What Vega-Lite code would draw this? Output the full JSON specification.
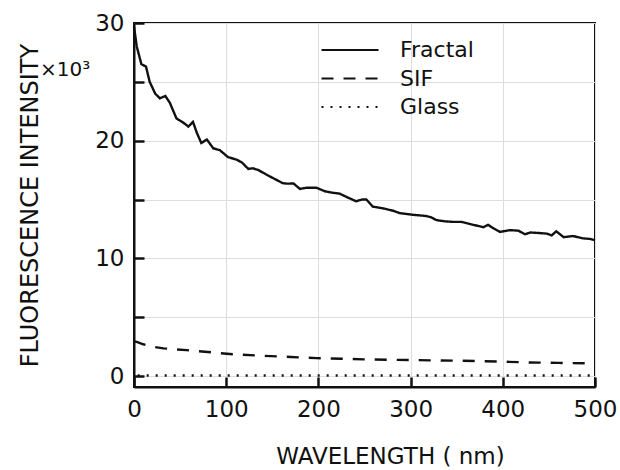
{
  "$schema": "https://vega.github.io/schema/vega-lite/v6.json",
  "width": 461,
  "height": 364,
  "autosize": {"type": "none"},
  "padding": {"left": 134, "top": 23, "right": 25, "bottom": 83},
  "background": "white",
  "title": {"text": "×10³", "anchor": "start", "frame": "group", "orient": "top", "offset": 0, "dx": -94, "dy": 84, "baseline": "alphabetic", "fontSize": 20, "fontWeight": "normal", "font": "DejaVu Sans", "color": "#111"},
  "config": {
    "font": "DejaVu Sans",
    "view": {"stroke": "#111", "strokeWidth": 2}
  },
  "data": {"values": [
      {"wl": 0, "v": 29.7, "s": "Fractal"},
      {"wl": 3, "v": 28.0, "s": "Fractal"},
      {"wl": 8, "v": 26.5, "s": "Fractal"},
      {"wl": 13, "v": 26.3, "s": "Fractal"},
      {"wl": 17, "v": 25.0, "s": "Fractal"},
      {"wl": 23, "v": 24.0, "s": "Fractal"},
      {"wl": 28, "v": 23.6, "s": "Fractal"},
      {"wl": 34, "v": 23.8, "s": "Fractal"},
      {"wl": 39, "v": 23.2, "s": "Fractal"},
      {"wl": 46, "v": 21.9, "s": "Fractal"},
      {"wl": 54, "v": 21.5, "s": "Fractal"},
      {"wl": 59, "v": 21.2, "s": "Fractal"},
      {"wl": 64, "v": 21.6, "s": "Fractal"},
      {"wl": 68, "v": 20.7, "s": "Fractal"},
      {"wl": 73, "v": 19.8, "s": "Fractal"},
      {"wl": 79, "v": 20.1, "s": "Fractal"},
      {"wl": 86, "v": 19.35, "s": "Fractal"},
      {"wl": 93, "v": 19.2, "s": "Fractal"},
      {"wl": 102, "v": 18.6, "s": "Fractal"},
      {"wl": 111, "v": 18.4, "s": "Fractal"},
      {"wl": 117, "v": 18.15, "s": "Fractal"},
      {"wl": 124, "v": 17.6, "s": "Fractal"},
      {"wl": 129, "v": 17.65, "s": "Fractal"},
      {"wl": 135, "v": 17.5, "s": "Fractal"},
      {"wl": 144, "v": 17.1, "s": "Fractal"},
      {"wl": 155, "v": 16.65, "s": "Fractal"},
      {"wl": 161, "v": 16.4, "s": "Fractal"},
      {"wl": 166, "v": 16.35, "s": "Fractal"},
      {"wl": 173, "v": 16.36, "s": "Fractal"},
      {"wl": 180, "v": 15.9, "s": "Fractal"},
      {"wl": 187, "v": 16.0, "s": "Fractal"},
      {"wl": 198, "v": 16.0, "s": "Fractal"},
      {"wl": 207, "v": 15.7, "s": "Fractal"},
      {"wl": 216, "v": 15.57, "s": "Fractal"},
      {"wl": 223, "v": 15.5, "s": "Fractal"},
      {"wl": 231, "v": 15.2, "s": "Fractal"},
      {"wl": 241, "v": 14.85, "s": "Fractal"},
      {"wl": 247, "v": 15.0, "s": "Fractal"},
      {"wl": 252, "v": 15.0, "s": "Fractal"},
      {"wl": 259, "v": 14.4, "s": "Fractal"},
      {"wl": 270, "v": 14.25, "s": "Fractal"},
      {"wl": 281, "v": 14.05, "s": "Fractal"},
      {"wl": 288, "v": 13.85, "s": "Fractal"},
      {"wl": 303, "v": 13.7, "s": "Fractal"},
      {"wl": 317, "v": 13.6, "s": "Fractal"},
      {"wl": 322, "v": 13.5, "s": "Fractal"},
      {"wl": 328, "v": 13.25, "s": "Fractal"},
      {"wl": 337, "v": 13.15, "s": "Fractal"},
      {"wl": 346, "v": 13.1, "s": "Fractal"},
      {"wl": 355, "v": 13.1, "s": "Fractal"},
      {"wl": 368, "v": 12.85, "s": "Fractal"},
      {"wl": 379, "v": 12.65, "s": "Fractal"},
      {"wl": 384, "v": 12.85, "s": "Fractal"},
      {"wl": 390, "v": 12.55, "s": "Fractal"},
      {"wl": 397, "v": 12.25, "s": "Fractal"},
      {"wl": 408, "v": 12.4, "s": "Fractal"},
      {"wl": 417, "v": 12.35, "s": "Fractal"},
      {"wl": 424, "v": 12.05, "s": "Fractal"},
      {"wl": 430, "v": 12.2, "s": "Fractal"},
      {"wl": 440, "v": 12.15, "s": "Fractal"},
      {"wl": 448, "v": 12.1, "s": "Fractal"},
      {"wl": 453, "v": 11.95, "s": "Fractal"},
      {"wl": 458, "v": 12.3, "s": "Fractal"},
      {"wl": 466, "v": 11.8, "s": "Fractal"},
      {"wl": 476, "v": 11.9, "s": "Fractal"},
      {"wl": 487, "v": 11.7, "s": "Fractal"},
      {"wl": 495, "v": 11.65, "s": "Fractal"},
      {"wl": 500, "v": 11.55, "s": "Fractal"},
      {"wl": 0, "v": 2.95, "s": "SIF"},
      {"wl": 3, "v": 2.9, "s": "SIF"},
      {"wl": 10, "v": 2.7, "s": "SIF"},
      {"wl": 20, "v": 2.5, "s": "SIF"},
      {"wl": 32, "v": 2.35, "s": "SIF"},
      {"wl": 57, "v": 2.2, "s": "SIF"},
      {"wl": 86, "v": 2.0, "s": "SIF"},
      {"wl": 107, "v": 1.85, "s": "SIF"},
      {"wl": 140, "v": 1.72, "s": "SIF"},
      {"wl": 170, "v": 1.62, "s": "SIF"},
      {"wl": 198, "v": 1.52, "s": "SIF"},
      {"wl": 225, "v": 1.47, "s": "SIF"},
      {"wl": 249, "v": 1.42, "s": "SIF"},
      {"wl": 300, "v": 1.36, "s": "SIF"},
      {"wl": 354, "v": 1.3, "s": "SIF"},
      {"wl": 400, "v": 1.22, "s": "SIF"},
      {"wl": 426, "v": 1.16, "s": "SIF"},
      {"wl": 460, "v": 1.12, "s": "SIF"},
      {"wl": 491, "v": 1.08, "s": "SIF"},
      {"wl": 500, "v": 1.2, "s": "SIF"},
      {"wl": 4, "v": 0.05, "s": "Glass"},
      {"wl": 100, "v": 0.05, "s": "Glass"},
      {"wl": 200, "v": 0.05, "s": "Glass"},
      {"wl": 300, "v": 0.05, "s": "Glass"},
      {"wl": 400, "v": 0.05, "s": "Glass"},
      {"wl": 500, "v": 0.05, "s": "Glass"}
  ]},
  "mark": {"type": "line", "color": "#111", "strokeWidth": 2.4},
  "encoding": {
    "x": {
      "field": "wl", "type": "quantitative",
      "scale": {"domain": [0, 500], "nice": false, "zero": false},
      "axis": {
        "tickCount": 5,
        "domainColor": "#111",
        "domainWidth": 2,
        "tickColor": "#111",
        "tickWidth": 2.5,
        "tickSize": -10,
        "labelPadding": 21,
        "labelFontSize": 23,
        "labelColor": "#111",
        "labelFont": "DejaVu Sans",
        "labelFlush": false,
        "title": "WAVELENGTH ( nm)",
        "titleFont": "DejaVu Sans",
        "titleFontWeight": "normal",
        "titleColor": "#111",
        "titleFontSize": 23,
        "titleX": 256,
        "titleY": 76,
        "titleBaseline": "alphabetic"
      }
    },
    "y": {
      "field": "v", "type": "quantitative",
      "scale": {"domain": [-0.93, 30], "nice": false, "zero": false},
      "axis": {
        "tickCount": 7,
        "labelExpr": "datum.value % 10 === 0 ? datum.label : ''",
        "domainColor": "#111",
        "domainWidth": 2,
        "tickColor": "#111",
        "tickWidth": 2.5,
        "tickSize": -10,
        "labelPadding": 20,
        "labelFontSize": 23,
        "labelColor": "#111",
        "labelFont": "DejaVu Sans",
        "title": "FLUORESCENCE INTENSITY",
        "titleFont": "DejaVu Sans",
        "titleFontWeight": "normal",
        "titleColor": "#111",
        "titleFontSize": 24,
        "titlePadding": 52
      }
    },
    "strokeDash": {
      "field": "s", "type": "nominal",
      "scale": {"domain": ["Fractal", "SIF", "Glass"], "range": [[1, 0], [12, 10], [2, 7]]},
      "legend": {
        "title": null,
        "orient": "none",
        "legendX": 186,
        "legendY": 16,
        "symbolType": "stroke",
        "symbolSize": 3249,
        "symbolStrokeWidth": 2.2,
        "symbolStrokeColor": "#111",
        "labelFontSize": 22,
        "labelColor": "#111",
        "labelOffset": 20,
        "clipHeight": 22,
        "rowPadding": 6.5
      }
    }
  }
}
